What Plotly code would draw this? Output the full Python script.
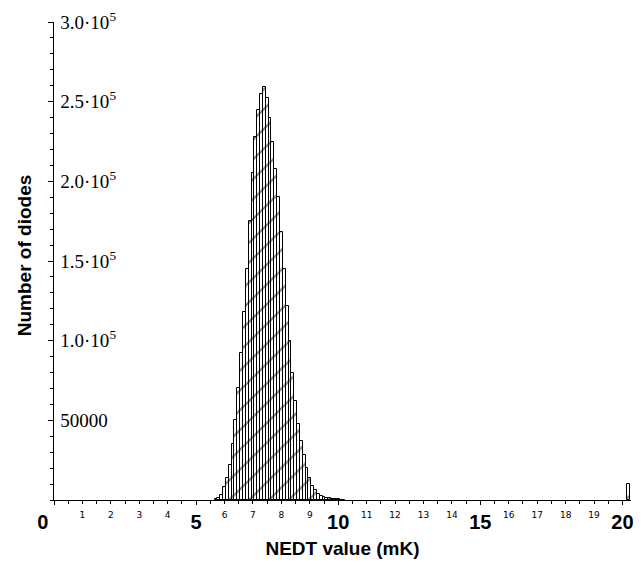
import plotly.graph_objects as go

# NEDT bin centres (mK) and diode counts
nedt_bins = [5.7, 5.8, 5.9, 6.0, 6.1, 6.2, 6.3, 6.4, 6.5, 6.6, 6.7, 6.8, 6.9,
             7.0, 7.1, 7.2, 7.3, 7.4, 7.5, 7.6, 7.7, 7.8, 7.9, 8.0, 8.1, 8.2,
             8.3, 8.4, 8.5, 8.6, 8.7, 8.8, 8.9, 9.0, 9.1, 9.2, 9.3, 9.4, 9.5,
             9.6, 9.7, 9.8, 9.9, 10.0, 10.1, 10.2, 20.2]
diode_counts = [500, 1500, 3000, 8000, 14000, 22000, 35000, 50000, 70000, 92000,
                118000, 145000, 175000, 205000, 228000, 245000, 255000, 259000,
                252000, 240000, 225000, 208000, 190000, 168000, 145000, 122000,
                100000, 80000, 62000, 48000, 37000, 28000, 20000, 14000, 9000,
                6000, 4000, 2800, 2000, 1500, 1100, 800, 600, 450, 300, 200, 10000]

y_tickvals = [50000, 100000, 150000, 200000, 250000, 300000]
y_ticktext = ["50000", "1.0·10<sup>5</sup>", "1.5·10<sup>5</sup>",
              "2.0·10<sup>5</sup>", "2.5·10<sup>5</sup>", "3.0·10<sup>5</sup>"]
x_major_vals = [0, 5, 10, 15, 20]
x_major_text = ["0\u00a0\u00a0\u00a0\u00a0", "5", "10", "15", "20"]
x_minor_vals = [1, 2, 3, 4, 6, 7, 8, 9, 11, 12, 13, 14, 16, 17, 18, 19]
x_minor_text = [str(v) for v in x_minor_vals]

fig = go.Figure()
fig.add_trace(go.Bar(
    x=nedt_bins, y=diode_counts, width=0.1,
    marker=dict(color="white", line=dict(color="black", width=1),
                pattern=dict(shape="/", fgcolor="black", bgcolor="white",
                             size=14, solidity=0.15)),
    showlegend=False,
))
# invisible trace on the secondary x axis so it is drawn
fig.add_trace(go.Scatter(x=[10], y=[0], xaxis="x2", mode="markers",
                         marker=dict(opacity=0), showlegend=False, hoverinfo="skip"))

fig.update_layout(
    width=643, height=566,
    margin=dict(l=54, r=9, t=16, b=66),
    paper_bgcolor="white", plot_bgcolor="white",
    bargap=0,
    xaxis=dict(range=[0, 20.3], tickvals=x_major_vals, ticktext=x_major_text,
               showline=True, linecolor="black", linewidth=1.2,
               ticks="outside", ticklen=4, tickcolor="black",
               ticklabeloverflow="allow",
               minor=dict(dtick=0.5, ticks="outside", ticklen=3, tickcolor="black"),
               tickfont=dict(family="Liberation Sans", size=20, color="black", weight="bold"),
               showgrid=False, zeroline=False,
               title=dict(text="<b>NEDT value (mK)</b>", standoff=9,
                          font=dict(family="Liberation Sans", size=19, color="black"))),
    xaxis2=dict(range=[0, 20.3], overlaying="x", side="bottom", anchor="free",
                position=0,
                tickvals=x_minor_vals, ticktext=x_minor_text,
                ticks="outside", ticklen=6, tickcolor="rgba(0,0,0,0)",
                ticklabeloverflow="allow",
                tickfont=dict(family="DejaVu Sans", size=9, color="black"),
                showgrid=False, zeroline=False, showline=False),
    yaxis=dict(range=[0, 300000], tickvals=y_tickvals, ticktext=y_ticktext,
               showline=True, linecolor="black", linewidth=1.2,
               ticks="outside", ticklen=5, tickcolor="black",
               minor=dict(dtick=10000, ticks="outside", ticklen=3, tickcolor="black"),
               ticklabelposition="inside", ticklabeloverflow="allow",
               ticklabelstandoff=7,
               tickfont=dict(family="Liberation Serif", size=19, color="black"),
               showgrid=False, zeroline=False),
    annotations=[dict(text="<b>Number of diodes</b>", textangle=-90,
                      x=(24 - 54) / 580, xref="paper",
                      y=(500 - 252) / 484, yref="paper",
                      xanchor="center", yanchor="middle",
                      showarrow=False,
                      font=dict(family="Liberation Sans", size=19, color="black"))],
)
fig.write_html("out.html")
